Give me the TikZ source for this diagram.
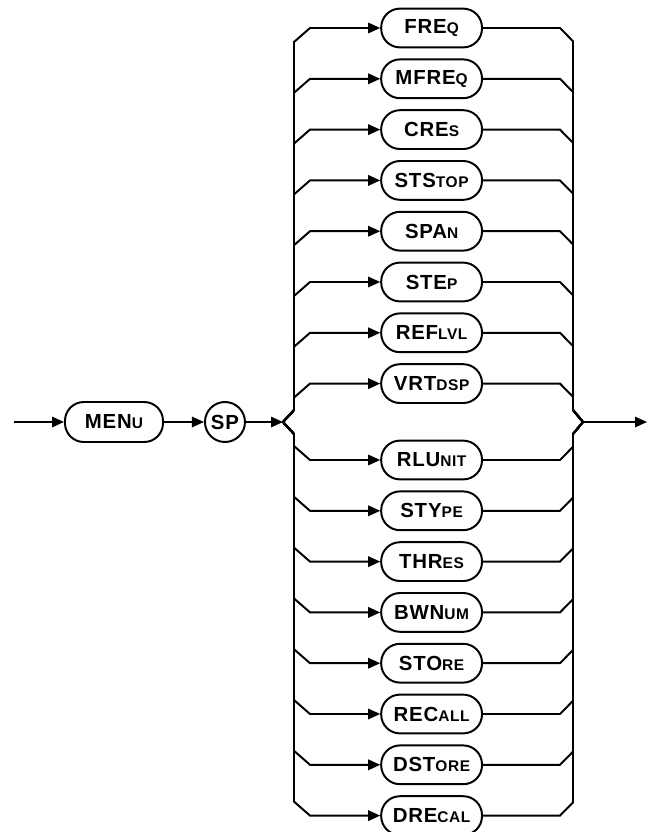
\documentclass[tikz,border=0pt]{standalone}
\usepackage{fontspec}
\setmainfont{Liberation Sans}[LetterSpace=4]
\usepackage{tikz}
\usetikzlibrary{positioning,arrows.meta,calc}

\newcommand{\sm}[1]{{\fontsize{11}{12}\selectfont #1}}

\begin{document}
\begin{tikzpicture}[
      font=\fontsize{14.5}{16}\selectfont\bfseries,
      line width=1.4pt,
      kw/.style={draw, rounded corners=0.47cm, minimum width=2.52cm,
                 minimum height=0.97cm, inner sep=0pt},
      kwc/.style={draw, circle, minimum size=1.0cm, inner sep=0pt},
      >={Triangle[length=3mm, width=2.6mm]}
    ]
    \useasboundingbox (0,0) rectangle (16.3,-20.8);

    % entry and prefix
    \coordinate (in) at (0.35,-10.55);
    \node[kw, minimum width=2.45cm, minimum height=1.0cm] (menu) at (2.85,-10.55) {MEN\sm{U}};
    \node[kwc, right=1.0cm of menu] (sp) {SP};
    \coordinate (lsplit) at (7.075,-10.55);
    \coordinate (lv) at (7.35,-10.55);
    \coordinate (rv) at (14.325,-10.55);
    \coordinate (rjoin) at (14.575,-10.55);
    \coordinate (out) at (16.175,-10.55);
    \draw[->] (in) -- (menu.west);
    \draw[->] (menu.east) -- (sp.west);
    \draw[->] (sp.east) -- (lsplit);

    % upper choices
    \foreach \n/\t [count=\i from 0] in {freq/{FRE\sm{Q}}, mfreq/{MFRE\sm{Q}},
        cres/{CRE\sm{S}}, ststop/{STS\sm{TOP}}, span/{SPA\sm{N}},
        stp/{STE\sm{P}}, reflvl/{REF\sm{LVL}}, vrtdsp/{VRT\sm{DSP}}} {
      \pgfmathsetmacro\y{-0.7-1.27*\i}
      \node[kw] (\n) at (10.79,\y) {\t};
      \draw[->] (lsplit) -- ($(lv)+(0,0.3)$)
        -- ($(\n.west -| lv)+(0,-0.35)$) -- ($(\n.west -| lv)+(0.4,0)$) -- (\n.west);
      \draw (\n.east) -- ($(\n.east -| rv)+(-0.325,0)$)
        -- ($(\n.east -| rv)+(0,-0.33)$) -- ($(rv)+(0,0.3)$) -- (rjoin);
    }

    % lower choices
    \foreach \n/\t [count=\i from 0] in {rlunit/{RLU\sm{NIT}}, stype/{STY\sm{PE}},
        thres/{THR\sm{ES}}, bwnum/{BWN\sm{UM}}, store/{STO\sm{RE}},
        recall/{REC\sm{ALL}}, dstore/{DST\sm{ORE}}, drecal/{DRE\sm{CAL}}} {
      \pgfmathsetmacro\y{-11.5-1.27*\i}
      \node[kw] (\n) at (10.79,\y) {\t};
      \draw[->] (lsplit) -- ($(lv)+(0,-0.3)$)
        -- ($(\n.west -| lv)+(0,0.35)$) -- ($(\n.west -| lv)+(0.4,0)$) -- (\n.west);
      \draw (\n.east) -- ($(\n.east -| rv)+(-0.325,0)$)
        -- ($(\n.east -| rv)+(0,0.33)$) -- ($(rv)+(0,-0.3)$) -- (rjoin);
    }

    % exit
    \draw[->] (rjoin) -- (out);
  \end{tikzpicture}
\end{document}
